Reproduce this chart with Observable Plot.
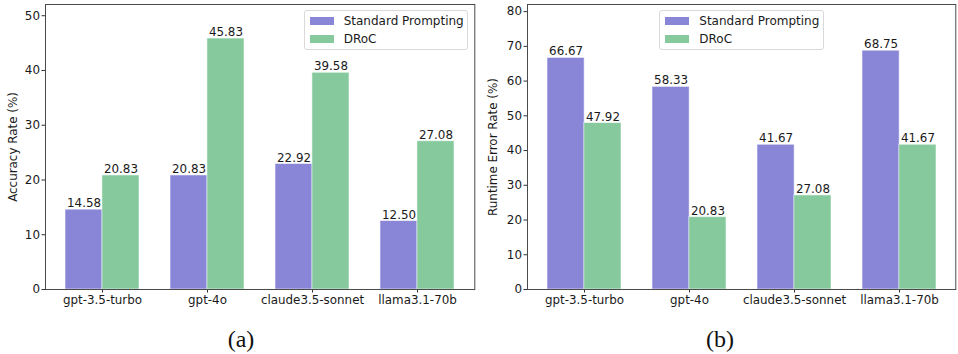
<!DOCTYPE html>
<html>
<head>
<meta charset="utf-8">
<script src="https://cdn.jsdelivr.net/npm/d3@7"></script>
<script src="https://cdn.jsdelivr.net/npm/@observablehq/plot@0.6"></script>
<style>
  html, body { margin: 0; padding: 0; background: #fff; }
  #wrap { position: relative; width: 958px; height: 354px; overflow: hidden; font-family: "DejaVu Sans", sans-serif; }
  .panel { position: absolute; top: 0; }
  .legend { position: absolute; border: 1px solid #d9d9d9; border-radius: 3px; background: rgba(255,255,255,0.85); box-sizing: border-box; }
  .legend .sw { position: absolute; width: 24px; height: 8.5px; }
  .legend .lt { position: absolute; font-size: 12px; color: #1a1a1a; line-height: 1; white-space: nowrap; }
  .caption { position: absolute; font-family: "Liberation Serif", "Times New Roman", serif; font-size: 24px; color: #111; transform: translate(-50%, -50%); }
</style>
</head>
<body>
<div id="wrap"></div>
<script>
// ---- data ----
const models = ["gpt-3.5-turbo", "gpt-4o", "claude3.5-sonnet", "llama3.1-70b"];
const seriesNames = ["Standard Prompting", "DRoC"];
const accuracyStandard = [14.58, 20.83, 22.92, 12.50];
const accuracyDRoC = [20.83, 45.83, 39.58, 27.08];
const errorStandard = [66.67, 58.33, 41.67, 68.75];
const errorDRoC = [47.92, 20.83, 27.08, 41.67];
const accuracyTicks = [0, 10, 20, 30, 40, 50];
const errorTicks = [0, 10, 20, 30, 40, 50, 60, 70, 80];
const seriesColors = ["#8985d7", "#85c99d"];

const wrap = document.getElementById("wrap");
const FONT = "DejaVu Sans";
const FS = 11.9;

function panel({std, droc, ticks, yMax, label, left, width, ml, mr, legendLeft, legendWidth, caption}) {
  const height = 310, mt = 4, mb = 21;
  const rows = [];
  models.forEach((m, i) => {
    rows.push({model: m, series: seriesNames[0], value: std[i]});
    rows.push({model: m, series: seriesNames[1], value: droc[i]});
  });
  const pInner = 0.3, pOuter = 0.185;
  const innerW = width - ml - mr;
  const step = innerW / (models.length - pInner + 2 * pOuter);
  const bw = step * (1 - pInner);
  const half = bw / 2;
  const stdRows = rows.filter(d => d.series === seriesNames[0]);
  const drocRows = rows.filter(d => d.series === seriesNames[1]);
  const chart = Plot.plot({
    width, height,
    marginLeft: ml, marginRight: mr, marginTop: mt, marginBottom: mb,
    style: {fontFamily: FONT, fontSize: FS + "px", color: "#1a1a1a", background: "transparent", overflow: "visible"},
    x: {domain: models, paddingInner: pInner, paddingOuter: pOuter, label: null},
    y: {domain: [0, yMax], label: null},
    marks: [
      Plot.barY(stdRows, {x: "model", y: "value", fill: seriesColors[0], insetLeft: 0, insetRight: half, stroke: "#ffffff", strokeOpacity: 0.55, strokeWidth: 1}),
      Plot.barY(drocRows, {x: "model", y: "value", fill: seriesColors[1], insetLeft: half, insetRight: 0, stroke: "#ffffff", strokeOpacity: 0.55, strokeWidth: 1}),
      Plot.text(stdRows, {x: "model", y: "value", dx: -half / 2, dy: -2.5, lineAnchor: "bottom", text: d => d.value.toFixed(2), fontSize: FS, fill: "#1a1a1a"}),
      Plot.text(drocRows, {x: "model", y: "value", dx: half / 2, dy: -2.5, lineAnchor: "bottom", text: d => d.value.toFixed(2), fontSize: FS, fill: "#1a1a1a"}),
      Plot.axisY({ticks, tickSize: 3.5, tickPadding: 2, fontSize: FS, stroke: "#333", label, labelAnchor: "center", labelArrow: "none", labelOffset: ml - 8}),
      Plot.axisX({tickSize: 3.5, tickPadding: 3, fontSize: FS, stroke: "#333", label: null}),
      Plot.frame({stroke: "#4a4a4a", strokeWidth: 1})
    ]
  });
  chart.classList.add("panel");
  chart.style.left = left + "px";
  wrap.appendChild(chart);

  // legend
  const lg = document.createElement("div");
  lg.className = "legend";
  lg.style.left = (left + legendLeft) + "px";
  lg.style.top = "10.3px";
  lg.style.width = legendWidth + "px";
  lg.style.height = "40px";
  seriesNames.forEach((s, k) => {
    const sw = document.createElement("div");
    sw.className = "sw";
    sw.style.background = seriesColors[k];
    sw.style.left = "5px";
    sw.style.top = (5.3 + k * 18) + "px";
    lg.appendChild(sw);
    const t = document.createElement("div");
    t.className = "lt";
    t.textContent = s;
    t.style.left = "39px";
    t.style.top = (3.3 + k * 18) + "px";
    lg.appendChild(t);
  });
  wrap.appendChild(lg);

  const cap = document.createElement("div");
  cap.className = "caption";
  cap.textContent = caption;
  cap.style.left = (left + width / 2 + 1) + "px";
  cap.style.top = "339px";
  wrap.appendChild(cap);
}

panel({std: accuracyStandard, droc: accuracyDRoC, ticks: accuracyTicks, yMax: 52.05,
  label: "Accuracy Rate (%)", left: 0, width: 480, ml: 45, mr: 5.7, legendLeft: 303.7, legendWidth: 164.6, caption: "(a)"});
panel({std: errorStandard, droc: errorDRoC, ticks: errorTicks, yMax: 82.05,
  label: "Runtime Error Rate (%)", left: 480, width: 478, ml: 47, mr: 2.7, legendLeft: 179.3, legendWidth: 164.7, caption: "(b)"});
</script>
</body>
</html>
